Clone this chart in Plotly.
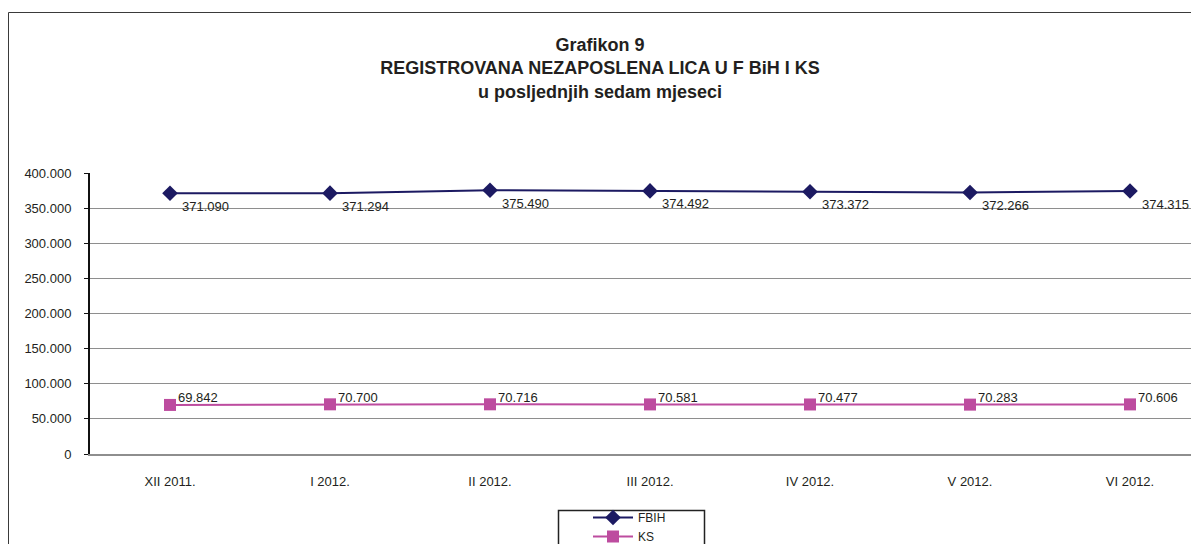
import plotly.graph_objects as go

# ── Data ────────────────────────────────────────────────────────────────────
months = ['XII 2011.', 'I 2012.', 'II 2012.', 'III 2012.', 'IV 2012.', 'V 2012.', 'VI 2012.']
fbih = [371090, 371294, 375490, 374492, 373372, 372266, 374315]
ks = [69842, 70700, 70716, 70581, 70477, 70283, 70606]
y_ticks = [0, 50000, 100000, 150000, 200000, 250000, 300000, 350000, 400000]

NAVY = '#1C1A62'
MAGENTA = '#BD4C9F'
GRID = '#8E8E8E'
TEXT = '#231F20'
FONT = 'Liberation Sans, Arial, sans-serif'

# page has an 8px body margin, so the figure is drawn at (8, 8)
OFF = 8
W, H = 1199 - OFF, 544 - OFF
L, R, T, B = 82, 0, 165, 90
plot_w = W - L - R
plot_h = H - T - B


def px_x(x):
    """page pixel -> paper x"""
    return (x - OFF - L) / plot_w


def px_y(y):
    """page pixel -> paper y"""
    return (H - B - (y - OFF)) / plot_h


def fmt(v):
    return f'{v:,}'.replace(',', '.')


fig = go.Figure()

fig.add_trace(go.Scatter(
    x=months, y=fbih, name='FBIH', mode='lines+markers',
    line=dict(color=NAVY, width=2),
    marker=dict(symbol='diamond', size=12, color=NAVY),
))
fig.add_trace(go.Scatter(
    x=months, y=ks, name='KS', mode='lines+markers',
    line=dict(color=MAGENTA, width=2),
    marker=dict(symbol='square', size=12, color=MAGENTA),
))

# ── Value labels ────────────────────────────────────────────────────────────
for m, v in zip(months, fbih):
    fig.add_annotation(x=m, y=v, text=fmt(v), showarrow=False,
                       xanchor='left', yanchor='middle', xshift=10, yshift=-13,
                       font=dict(size=13, color=TEXT, family=FONT))
for m, v in zip(months, ks):
    fig.add_annotation(x=m, y=v, text=fmt(v), showarrow=False,
                       xanchor='left', yanchor='middle', xshift=6, yshift=7,
                       font=dict(size=13, color=TEXT, family=FONT))

# outer chart frame (cropped at right/bottom like the source)
fig.add_shape(type='rect', xref='paper', yref='paper',
              x0=px_x(8.5), x1=px_x(1220), y0=px_y(580), y1=px_y(12.5),
              line=dict(color='#3A3A3A', width=1), layer='below')
# legend frame
fig.add_shape(type='rect', xref='paper', yref='paper',
              x0=px_x(558.5), x1=px_x(704.5), y0=px_y(570), y1=px_y(510.5),
              line=dict(color='#222222', width=1.5), layer='above')

fig.update_layout(
    width=W, height=H,
    separators=',.',
    paper_bgcolor='white', plot_bgcolor='white',
    font=dict(family=FONT, color=TEXT, size=13),
    title=dict(
        text='<b>Grafikon 9<br>REGISTROVANA NEZAPOSLENA LICA U F BiH I KS<br>u posljednjih sedam mjeseci</b>',
        font=dict(size=18, color=TEXT, family=FONT),
        x=(600 - OFF) / W, xref='container', xanchor='center',
        y=1 - (51 - OFF) / H, yref='container', yanchor='top',
    ),
    margin=dict(l=L, r=R, t=T, b=B, autoexpand=False),
    showlegend=True,
    legend=dict(
        orientation='v',
        x=px_x(588), xanchor='left',
        y=px_y(503), yanchor='top',
        bgcolor='rgba(0,0,0,0)', borderwidth=0,
        font=dict(size=12, color=TEXT, family=FONT),
        tracegroupgap=0, itemwidth=40,
    ),
    xaxis=dict(
        range=[-0.5, -0.5 + plot_w / 160],
        showgrid=False, ticks='', showline=True,
        linecolor=GRID, linewidth=2,
        tickfont=dict(size=13, color=TEXT, family=FONT),
        ticklabelstandoff=14,
    ),
    yaxis=dict(
        range=[0, 400000], tickvals=y_ticks, tickformat=',',
        showgrid=True, gridcolor=GRID, gridwidth=1,
        showline=True, linecolor='#111111', linewidth=2,
        ticks='outside', ticklen=4, tickcolor='#111111',
        tickfont=dict(size=13, color=TEXT, family=FONT),
        ticklabelstandoff=10,
        zeroline=False,
    ),
)

fig.write_html('out.html')
